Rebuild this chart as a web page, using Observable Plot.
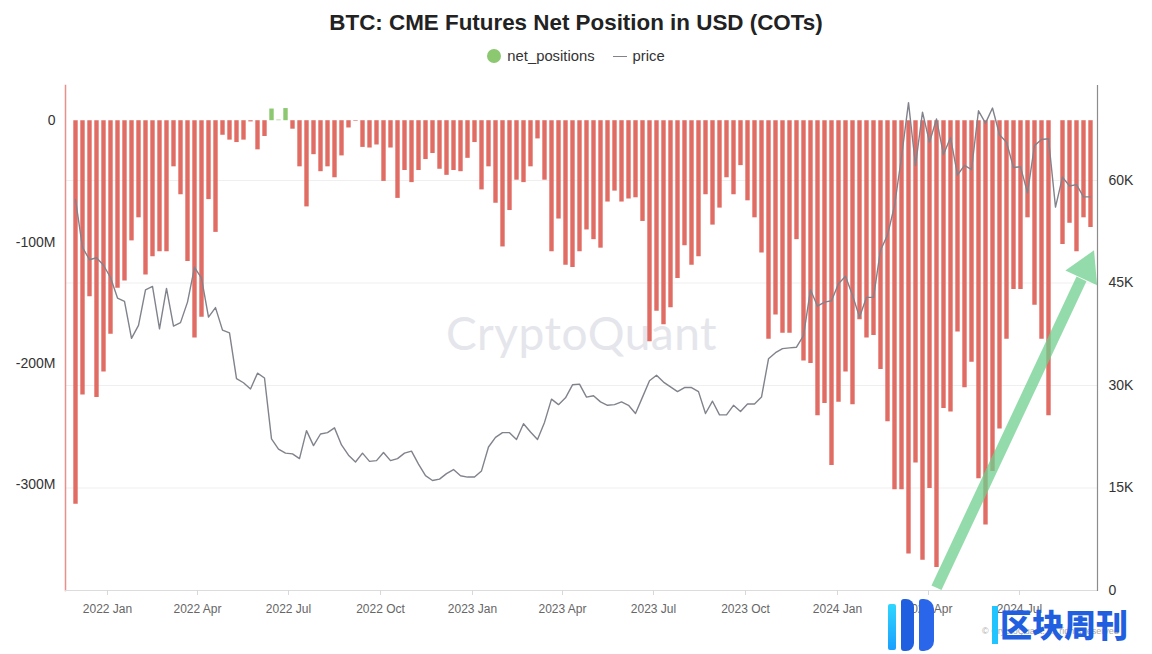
<!DOCTYPE html>
<html>
<head>
<meta charset="utf-8">
<script src="https://cdn.jsdelivr.net/npm/d3@7"></script>
<script src="https://cdn.jsdelivr.net/npm/@observablehq/plot@0.6"></script>
<style>
  body { margin: 0; background: #fff; font-family: "Liberation Sans", Arial, sans-serif; }
  #wrap { position: relative; width: 1152px; height: 654px; overflow: hidden; background: #fff; }
  #title { position: absolute; top: 10px; left: 0; width: 1152px; text-align: center; font-weight: bold; font-size: 22.4px; color: #222; }
  #legend { position: absolute; top: 48px; left: 0; width: 1152px; display: flex; justify-content: center; align-items: center; font-size: 14.8px; color: #333; }
  #legend .dot { width: 14px; height: 14px; border-radius: 50%; background: #8cc870; margin-right: 6px; }
  #legend .ln { width: 14px; height: 0; border-top: 1.5px solid #80838c; margin: 0 6px 0 18px; }
  .layer { position: absolute; left: 0; top: 80px; }
  #wm { position: absolute; left: 446px; top: 305px; font-family: Lato, "Open Sans", sans-serif; font-size: 46px; color: #e5e5ec; letter-spacing: 0.5px; }
  #copy { position: absolute; left: 982px; top: 626px; font-size: 9px; color: #aaa; }
  #logo { position: absolute; left: 884px; top: 596px; width: 260px; height: 58px; }
  #logo .b { position: absolute; }
  #logo .t { position: absolute; left: 116px; top: 4px; font-family: "Noto Sans CJK SC", sans-serif; font-weight: 900; font-size: 32px; color: #1f5fe0; }
</style>
</head>
<body>
<div id="wrap">
  <div id="wm">CryptoQuant</div>
  <div id="title">BTC: CME Futures Net Position in USD (COTs)</div>
  <div id="legend"><div class="dot"></div><span>net_positions</span><div class="ln"></div><span>price</span></div>
  <div id="gridLayer" class="layer"></div>
  <div id="barLayer" class="layer"></div>
  <div id="priceLayer" class="layer"></div>
  <div id="copy">© CryptoQuant. All rights reserved</div>
  <div id="logo">
    <div class="b" style="left:4px;top:8px;width:8px;height:46px;background:linear-gradient(#2fd6ff,#1aa0ff);border-radius:2px;"></div>
    <div class="b" style="left:17px;top:3px;width:13px;height:52px;background:#1f5fe0;border-radius:3px 8px 8px 3px;"></div>
    <div class="b" style="left:35px;top:3px;width:15px;height:52px;background:#2a66ea;border-radius:3px 10px 10px 3px;"></div>
    <div class="b" style="left:108px;top:10px;width:6px;height:38px;background:#22c4ff;"></div>
    <div class="t">区块周刊</div>
  </div>
</div>
<script>
// ---------------- data ----------------
const firstWeek = "2021-11-30"; // weekly COT report dates (Tuesdays)
// CME net positions, millions USD (null = no bar)
const netPositions = [
  -316, -226, -145, -228, -207, -176, -138, -132, -99, -80,
  -127, -112, -108, -108, -38, -61, -116, -179, -162, -65,
  -92, -12, -16, -18, -16, -1, -24, -13, 9.6, 0.5,
  10, -7, -38, -71, -28, -42, -38, -47, -29, -6,
  -0.5, -22, -22.5, -20, -50, -22.5, -64, -41, -51, -41,
  -32, -27, -40, -45, -41, -42, -31, -18, -57, -38,
  -68, -104, -74, -49, -51, -38, -15, -49, -108, -81,
  -119, -121, -108, -90, -98, -105, -67, -58, -67, -64.5,
  -63.5, -83, -182, -157, -168, -154, -130, -103, -119, -112,
  -61, -86, -72, -47, -61, -37, -66, -80, -109, -180,
  -160, -175, -175, -98, -198, -200, -243, -233, -284, -232,
  -207, -234, -164, -179, -177, -205, -248, -304, -304, -357,
  -282, -362, -303, -368, -237, -240, -174, -220, -199, -295,
  -333, -289, -254, -180, -139, -139, -80, -152, -180, -243,
  null, -102, -84.5, -108, -80, -88
];
// BTC price, thousands USD
const btcPrice = [
  57.2, 50.2, 48.4, 48.7, 47.6, 45.8, 42.8, 42.3, 36.9, 38.8,
  44.0, 44.5, 38.3, 44.2, 38.7, 39.2, 42.2, 47.3, 45.7, 40.0,
  41.4, 38.1, 37.7, 31.0, 30.4, 29.5, 31.8, 31.1, 22.2, 20.7,
  20.1, 20.0, 19.3, 23.4, 21.2, 22.9, 23.1, 23.8, 21.3, 19.8,
  18.8, 20.1, 18.9, 19.0, 20.2, 19.0, 19.3, 20.1, 20.4, 18.5,
  16.8, 16.1, 16.3, 17.1, 17.7, 16.8, 16.6, 16.6, 17.5, 21.0,
  22.4, 23.1, 23.1, 22.1, 24.4, 23.2, 22.1, 24.6, 28.0, 27.2,
  28.2, 30.1, 30.2, 28.3, 28.5, 27.6, 27.1, 27.2, 27.6, 27.1,
  25.9, 28.3, 30.7, 31.5, 30.5, 29.8, 29.1, 29.7, 29.7, 29.1,
  25.9, 27.7, 25.7, 25.7, 27.1, 26.2, 27.3, 27.3, 28.3, 33.9,
  34.8, 35.4, 35.5, 35.6, 37.3, 44.0, 41.6, 42.2, 42.4, 44.9,
  46.0, 43.2, 40.0, 42.9, 42.9, 49.8, 52.0, 56.3, 63.4, 71.4,
  62.2, 70.0, 65.6, 69.0, 63.8, 66.3, 60.8, 62.2, 61.6, 70.2,
  68.4, 70.6, 66.7, 65.6, 61.9, 62.0, 58.2, 65.1, 66.0, 66.1,
  56.1, 60.5, 59.2, 59.4, 57.6, 57.6
];
const xTickDates = ["2022-01-01","2022-04-01","2022-07-01","2022-10-01","2023-01-01","2023-04-01","2023-07-01","2023-10-01","2024-01-01","2024-04-01","2024-07-01"];
const xTickLabels = ["2022 Jan","2022 Apr","2022 Jul","2022 Oct","2023 Jan","2023 Apr","2023 Jul","2023 Oct","2024 Jan","2024 Apr","2024 Jul"];
const leftTicks = [0, -100e6, -200e6, -300e6];
const leftTickLabels = ["0", "-100M", "-200M", "-300M"];
const rightTicks = [0, 15000, 30000, 45000, 60000];
const rightTickLabels = ["0", "15K", "30K", "45K", "60K"];
// annotation arrow (date, price in USD)
const arrowStart = {date: "2024-04-09", price: 400};
const arrowHeadBase = {date: "2024-09-01", price: 45600};
const arrowHeadCenter = {date: "2024-09-05", price: 47100};

// ---------------- build ----------------
const start = new Date(firstWeek + "T00:00:00Z");
const rows = netPositions.map((v, i) => ({
  date: d3.utcDay.offset(start, 7 * i),
  net: v == null ? null : v * 1e6,
  price: btcPrice[i] * 1000
}));
const xTicks = xTickDates.map(d => new Date(d + "T00:00:00Z"));
const xDomain = [new Date("2021-11-20T00:00:00Z"), new Date("2024-09-17T00:00:00Z")];

const W = 1152, H = 574;
const common = {
  width: W, height: H,
  marginLeft: 65, marginRight: 55, marginTop: 5, marginBottom: 64,
  style: {fontFamily: "'Liberation Sans', Arial, sans-serif", fontSize: "14px", background: "transparent", overflow: "visible"},
  x: {type: "utc", domain: xDomain}
};
const RED = "#e06c64", GREEN = "#8cc870";

// bottom layer: grid (price scale)
const gridPlot = Plot.plot({
  ...common,
  y: {domain: [0, 73900]},
  axis: null,
  marks: [
    Plot.ruleY(rightTicks.slice(1), {stroke: "#efefef", strokeWidth: 1})
  ]
});
document.getElementById("gridLayer").append(gridPlot);

// middle layer: bars, left axis, x axis
const barPlot = Plot.plot({
  ...common,
  y: {domain: [-387e6, 29e6]},
  marks: [
    Plot.ruleX(rows.filter(d => d.net != null), {
      x: "date", y1: 0, y2: "net",
      stroke: d => d.net >= 0 ? GREEN : RED,
      strokeWidth: 4.4
    }),
    Plot.frame({anchor: "left", stroke: "#e8918b", strokeWidth: 1.5}),
    Plot.frame({anchor: "bottom", stroke: "#dcdcdc"}),
    Plot.axisY({ticks: leftTicks, tickFormat: d => leftTickLabels[leftTicks.indexOf(d)], tickSize: 0, tickPadding: 10, label: null, fill: "#333", fontSize: 14}),
    Plot.axisX({ticks: xTicks, tickFormat: d => xTickLabels[xTicks.findIndex(t => +t === +d)], tickSize: 5, tickPadding: 9, label: null, stroke: "#d8d8d8", fill: "#666", fontSize: 12})
  ]
});
document.getElementById("barLayer").append(barPlot);

// top layer: price line, right axis, annotation arrow
const pDate = s => new Date(s + "T00:00:00Z");
const pricePlot = Plot.plot({
  ...common,
  y: {domain: [0, 73900]},
  marks: [
    Plot.line(rows, {x: "date", y: "price", stroke: "#80838c", strokeWidth: 1.4}),
    Plot.frame({anchor: "right", stroke: "#8c8c8c", strokeWidth: 1.2}),
    Plot.axisY({anchor: "right", ticks: rightTicks, tickFormat: d => rightTickLabels[rightTicks.indexOf(d)], tickSize: 0, tickPadding: 11, label: null, fill: "#333", fontSize: 14}),
    Plot.axisX({ticks: [], label: null}),
    Plot.link([0], {
      x1: () => pDate(arrowStart.date), y1: () => arrowStart.price,
      x2: () => pDate(arrowHeadBase.date), y2: () => arrowHeadBase.price,
      stroke: "#6fcf8f", strokeOpacity: 0.75, strokeWidth: 11
    }),
    Plot.dot([0], {
      x: () => pDate(arrowHeadCenter.date), y: () => arrowHeadCenter.price,
      symbol: "triangle", r: 13, fill: "#6fcf8f", fillOpacity: 0.75, stroke: "none", rotate: 25
    })
  ]
});
document.getElementById("priceLayer").append(pricePlot);
</script>
</body>
</html>
